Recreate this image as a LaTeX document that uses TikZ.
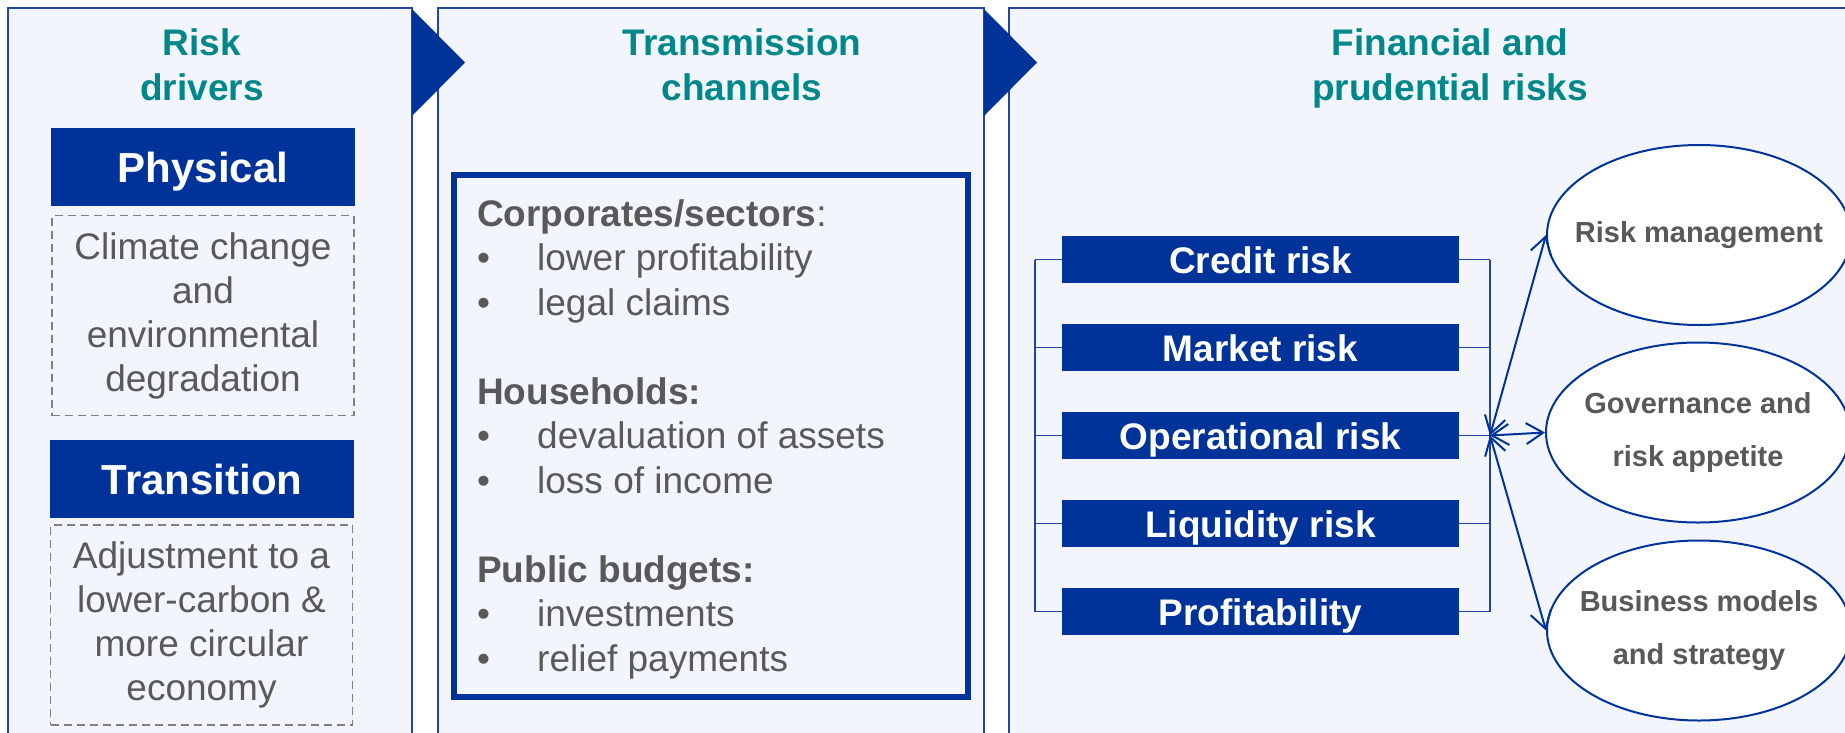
\documentclass[tikz,border=0pt]{standalone}
\usepackage{fontspec}
\setmainfont{Liberation Sans}
\usetikzlibrary{shapes.geometric,arrows.meta}

\definecolor{ecbblue}{RGB}{0,51,153}
\definecolor{ecbteal}{RGB}{0,135,138}
\definecolor{txtgray}{RGB}{89,89,89}
\definecolor{panelfill}{RGB}{242,245,251}
\definecolor{panelline}{RGB}{36,68,163}
\definecolor{dashgray}{RGB}{128,128,128}

\newcommand{\blt}{\makebox[60pt][l]{\textbullet}}

\tikzset{panel/.style={draw=panelline,line width=1.5pt,fill=panelfill},
         pointer/.style={fill=ecbblue},
         title/.style={anchor=north,align=center,text=ecbteal,
           font=\fontsize{37}{45}\selectfont\bfseries},
         driver/.style={fill=ecbblue,text=white,minimum width=304pt,
           minimum height=78pt,text height=31pt,text depth=0pt,
           font=\fontsize{42}{45}\selectfont\bfseries},
         desc/.style={draw=dashgray,line width=1.5pt,dash pattern=on 8pt off 5pt,
           align=center,text=txtgray,minimum width=302pt,minimum height=200pt,
           font=\fontsize{37}{44}\selectfont},
         riskbox/.style={fill=ecbblue,text=white,minimum width=397pt,
           minimum height=47pt,text height=27pt,text depth=0pt,
           font=\fontsize{37}{45}\selectfont\bfseries},
         area/.style={draw=ecbblue,line width=2pt,fill=white,ellipse,
           inner xsep=-20pt,inner ysep=0pt,
           minimum width=304pt,minimum height=180pt,align=center,text=txtgray,
           font=\fontsize{29}{53}\selectfont\bfseries},
         link/.style={draw=panelline,line width=1.5pt},
         both/.style={draw=ecbblue,line width=2pt,
           {Straight Barb[length=17pt,width=21pt]}-{Straight Barb[length=17pt,width=21pt]}}}

\begin{document}
\begin{tikzpicture}
        [x=1pt,y=-1pt,every node/.style={inner sep=0pt}]
        % page size of the reference, the columns run off its bottom and right edge
        \useasboundingbox (0,0) rectangle (1845,732);
        \clip (0,0) rectangle (1845,732);

        \draw[panel] (8,8) rectangle (412,760);
        \draw[panel] (438,8) rectangle (984,760);
        \draw[panel] (1009,8) rectangle (1880,760);

        \fill[pointer] (412,9) -- (465,62.5) -- (412,116) -- cycle;
        \fill[pointer] (984,9) -- (1037,62.5) -- (984,116) -- cycle;

        \node[title] (t1) at (202,28) {Risk\\drivers};
        \node[title] (t2) at (742,28) {Transmission\\channels};
        \node[title] (t3) at (1450,28) {Financial and\\prudential risks};

        % risk drivers
        \node[driver] (phys) at (203,166.5) {Physical};
        \node[desc] (physd) at (203,315.5) {Climate change\\and\\environmental\\degradation};
        \node[driver] (trans) at (202,479) {Transition};
        \node[desc] (transd) at (201.5,625) {Adjustment to a\\lower-carbon \&\\more circular\\economy};

        % transmission channels
        \node[draw=ecbblue,line width=5.5pt,minimum width=514pt,minimum height=522pt] (chan) at (711,436) {};
        \node[anchor=north west,align=left,text=txtgray,font=\fontsize{37}{44.5}\selectfont] (chanlist) at (477,199)
          {{\bfseries Corporates/sectors}:\\
           \blt lower profitability\\
           \blt legal claims\\[44.5pt]
           {\bfseries Households:}\\
           \blt devaluation of assets\\
           \blt loss of income\\[44.5pt]
           {\bfseries Public budgets:}\\
           \blt investments\\
           \blt relief payments};

        % financial and prudential risks
        \node[riskbox] (credit) at (1260.5,259.5) {Credit risk};
        \node[riskbox] (market) at (1260.5,347.5) {Market risk};
        \node[riskbox] (oper) at (1260.5,435.5) {Operational risk};
        \node[riskbox] (liquid) at (1260.5,523.5) {Liquidity risk};
        \node[riskbox] (profit) at (1260.5,611.5) {Profitability};

        \coordinate (lbar) at (1035,0);
        \coordinate (rbar) at (1490,0);
        \coordinate (hub) at (oper.east -| rbar);

        \draw[link] (credit.west -| lbar) -- (profit.west -| lbar);
        \draw[link] (credit.west) -- (credit.west -| lbar);
        \draw[link] (market.west) -- (market.west -| lbar);
        \draw[link] (oper.west) -- (oper.west -| lbar);
        \draw[link] (liquid.west) -- (liquid.west -| lbar);
        \draw[link] (profit.west) -- (profit.west -| lbar);

        \draw[link] (credit.east -| rbar) -- (profit.east -| rbar);
        \draw[link] (credit.east) -- (credit.east -| rbar);
        \draw[link] (market.east) -- (market.east -| rbar);
        \draw[link] (oper.east) -- (hub);
        \draw[link] (liquid.east) -- (liquid.east -| rbar);
        \draw[link] (profit.east) -- (profit.east -| rbar);

        \node[area] (rm) at (1699,235) {Risk management};
        \node[area] (gov) at (1698,432.5) {Governance and\\risk appetite};
        \node[area] (biz) at (1699,630.5) {Business models\\and strategy};

        \draw[both] (hub) -- (rm.west);
        \draw[both] (hub) -- (gov.west);
        \draw[both] (hub) -- (biz.west);

      \end{tikzpicture}
\end{document}
